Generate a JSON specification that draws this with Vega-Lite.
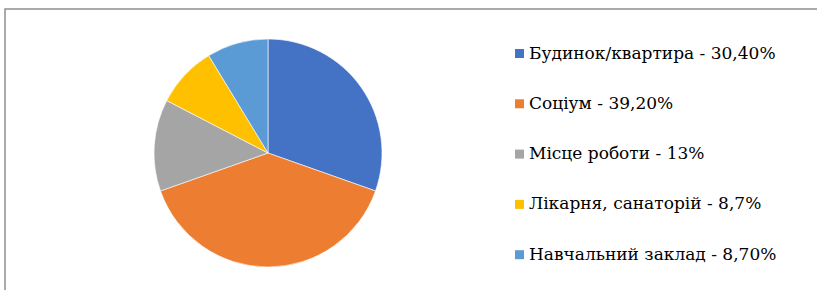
{
  "$schema": "https://vega.github.io/schema/vega-lite/v6.json",
  "autosize": "none",
  "padding": {"left": 5, "top": 9, "right": 0, "bottom": 0},
  "width": 840,
  "height": 300,
  "background": "white",
  "view": {"stroke": "#8f8f8f", "strokeWidth": 1.5, "fill": "white"},
  "data": {"values": [
    {"category": "Будинок/квартира - 30,40%", "value": 30.4, "order": 1},
    {"category": "Соціум - 39,20%", "value": 39.2, "order": 2},
    {"category": "Місце роботи - 13%", "value": 13, "order": 3},
    {"category": "Лікарня, санаторій - 8,7%", "value": 8.7, "order": 4},
    {"category": "Навчальний заклад - 8,70%", "value": 8.7, "order": 5}
  ]},
  "mark": {"type": "arc", "radius": 114, "x": 263, "y": 144, "stroke": "white", "strokeWidth": 0.6},
  "encoding": {
    "theta": {"field": "value", "type": "quantitative", "stack": true},
    "order": {"field": "order", "type": "quantitative"},
    "color": {
      "field": "category",
      "type": "nominal",
      "sort": null,
      "scale": {
        "domain": ["Будинок/квартира - 30,40%", "Соціум - 39,20%", "Місце роботи - 13%", "Лікарня, санаторій - 8,7%", "Навчальний заклад - 8,70%"],
        "range": ["#4472C4", "#ED7D31", "#A5A5A5", "#FFC000", "#5B9BD5"]
      },
      "legend": {
        "title": null,
        "orient": "none",
        "legendX": 506,
        "legendY": 36,
        "padding": 0,
        "offset": 0,
        "symbolType": "square",
        "symbolSize": 81,
        "symbolStrokeWidth": 0,
        "labelFont": "DejaVu Serif",
        "labelFontSize": 17,
        "labelColor": "#000000",
        "labelLimit": 400,
        "labelOffset": 1,
        "rowPadding": 32.3
      }
    }
  }
}
